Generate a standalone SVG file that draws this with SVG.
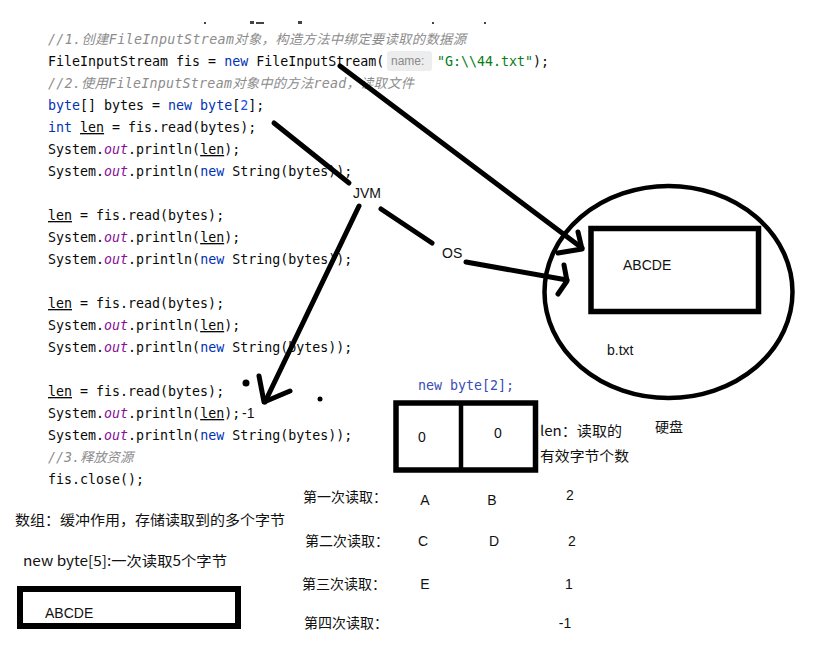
<svg xmlns="http://www.w3.org/2000/svg" width="829" height="657" viewBox="0 0 829 657">
<style>
.code{font-family:"DejaVu Sans Mono","Noto Sans CJK SC",monospace;font-size:13.3px;fill:#080808;white-space:pre}
.kw{fill:#0033B3}
.num{fill:#1750EB}
.fld{fill:#871094;font-style:italic}
.str{fill:#067D17}
.cmt{fill:#8C8C8C;font-style:italic}
.ul{text-decoration:underline}
.lbl{font-family:"Liberation Sans","Noto Sans CJK SC",sans-serif;font-size:14px;fill:#111}
.cn{font-family:"Noto Sans CJK SC","Liberation Sans",sans-serif;font-size:14px;fill:#111}
.ink{fill:none;stroke:#000;stroke-width:5;stroke-linecap:round;stroke-linejoin:round}
.box{fill:none;stroke:#000}
</style>
<rect width="829" height="657" fill="#fff"/>
<g id="fragments" fill="#444">
<rect x="204" y="22" width="2" height="2"/>
<rect x="250" y="21" width="4" height="3"/>
<rect x="256" y="22" width="8" height="2"/>
<rect x="298" y="21" width="4" height="3"/>
<rect x="432" y="22" width="2" height="2"/>
<rect x="484" y="22" width="2" height="2"/>
</g>
<g id="code">
<text class="code" x="48" y="44" textLength="418" lengthAdjust="spacing"><tspan class="cmt">//1.创建FileInputStream对象，构造方法中绑定要读取的数据源</tspan></text>
<text class="code" x="48" y="66">FileInputStream fis = <tspan class="kw">new</tspan> FileInputStream(</text>
<rect x="387" y="51" width="45" height="20" rx="3" fill="#EDEDED"/>
<text x="391" y="65" font-family="'Liberation Sans',sans-serif" font-size="12" fill="#8a8a8a">name:</text>
<text class="code" x="437" y="66"><tspan class="str">"G:\\44.txt"</tspan>);</text>
<text class="code" x="48" y="88" textLength="366" lengthAdjust="spacing"><tspan class="cmt">//2.使用FileInputStream对象中的方法read，读取文件</tspan></text>
<text class="code" x="48" y="110"><tspan class="kw">byte</tspan>[] bytes = <tspan class="kw">new byte</tspan>[<tspan class="num">2</tspan>];</text>
<text class="code" x="48" y="132"><tspan class="kw">int</tspan> <tspan class="ul">len</tspan> = fis.read(bytes);</text>
<text class="code" x="48" y="154">System.<tspan class="fld">out</tspan>.println(<tspan class="ul">len</tspan>);</text>
<text class="code" x="48" y="176">System.<tspan class="fld">out</tspan>.println(<tspan class="kw">new</tspan> String(bytes));</text>
<text class="code" x="48" y="220"><tspan class="ul">len</tspan> = fis.read(bytes);</text>
<text class="code" x="48" y="242">System.<tspan class="fld">out</tspan>.println(<tspan class="ul">len</tspan>);</text>
<text class="code" x="48" y="264">System.<tspan class="fld">out</tspan>.println(<tspan class="kw">new</tspan> String(bytes));</text>
<text class="code" x="48" y="308"><tspan class="ul">len</tspan> = fis.read(bytes);</text>
<text class="code" x="48" y="330">System.<tspan class="fld">out</tspan>.println(<tspan class="ul">len</tspan>);</text>
<text class="code" x="48" y="352">System.<tspan class="fld">out</tspan>.println(<tspan class="kw">new</tspan> String(bytes));</text>
<text class="code" x="48" y="396"><tspan class="ul">len</tspan> = fis.read(bytes);</text>
<text class="code" x="48" y="418">System.<tspan class="fld">out</tspan>.println(<tspan class="ul">len</tspan>);</text>
<text class="lbl" x="242" y="418">-1</text>
<text class="code" x="48" y="440">System.<tspan class="fld">out</tspan>.println(<tspan class="kw">new</tspan> String(bytes));</text>
<text class="code" x="48" y="462"><tspan class="cmt">//3.释放资源</tspan></text>
<text class="code" x="48" y="484">fis.close();</text>
</g>
<g id="connectors">
<path class="ink" d="M274,123 L349,183"/>
<path class="ink" d="M359,206 L265,402"/>
<path class="ink" d="M259,376 L264,402 L290,391"/>
<path class="ink" d="M381,209 L432,243"/>
<path class="ink" d="M466,262 L567,280"/>
<path class="ink" d="M564,265 L567,281 L558,294"/>
<path class="ink" d="M340,66 L582,248"/>
<path class="ink" d="M578,232 L582,249 L558,253"/>
<circle cx="246" cy="383" r="3.5" fill="#000"/>
<circle cx="320" cy="399" r="2.5" fill="#000"/>
</g>
<g id="jvm"><text class="lbl" x="353" y="198">JVM</text></g>
<g id="os"><text class="lbl" x="442" y="258">OS</text></g>
<g id="disk">
<ellipse class="box" cx="668.5" cy="292" rx="124" ry="106" stroke-width="4.5"/>
<rect class="box" x="591" y="228.5" width="167.5" height="83" stroke-width="5.5"/>
<text class="lbl" x="623" y="270">ABCDE</text>
<text class="lbl" x="607" y="355">b.txt</text>
<text class="cn" x="655" y="432">硬盘</text>
</g>
<g id="array">
<text class="code" x="418" y="390" style="fill:#3a4db8">new byte[2];</text>
<rect class="box" x="396" y="403" width="139.5" height="67" stroke-width="5.5"/>
<line x1="461" y1="403" x2="461" y2="472" stroke="#000" stroke-width="4.5"/>
<text class="lbl" x="422" y="442" font-size="15" text-anchor="middle">0</text>
<text class="lbl" x="498" y="438" font-size="15" text-anchor="middle">0</text>
<text class="cn" x="540" y="436" font-size="15" textLength="82" lengthAdjust="spacingAndGlyphs">len：读取的</text>
<text class="cn" x="540" y="461" font-size="15" textLength="89" lengthAdjust="spacingAndGlyphs">有效字节个数</text>
</g>
<g id="table">
<text class="cn" x="303" y="502">第一次读取：</text>
<text class="lbl" x="425" y="505" text-anchor="middle">A</text>
<text class="lbl" x="492" y="505" text-anchor="middle">B</text>
<text class="lbl" x="570" y="500" text-anchor="middle">2</text>
<text class="cn" x="305" y="546">第二次读取：</text>
<text class="lbl" x="423" y="546" text-anchor="middle">C</text>
<text class="lbl" x="494" y="546" text-anchor="middle">D</text>
<text class="lbl" x="572" y="546" text-anchor="middle">2</text>
<text class="cn" x="302" y="589">第三次读取：</text>
<text class="lbl" x="425" y="589" text-anchor="middle">E</text>
<text class="lbl" x="569" y="589" text-anchor="middle">1</text>
<text class="cn" x="304" y="628">第四次读取：</text>
<text class="lbl" x="565" y="628" text-anchor="middle">-1</text>
</g>
<g id="buffer-note">
<text class="cn" x="15" y="525" font-size="15" textLength="270" lengthAdjust="spacingAndGlyphs">数组：缓冲作用，存储读取到的多个字节</text>
<text class="cn" x="23" y="566" font-size="15" textLength="204" lengthAdjust="spacingAndGlyphs">new byte[5]:一次读取5个字节</text>
</g>
<g id="buffer5">
<rect class="box" x="20" y="589" width="218" height="37" stroke-width="6"/>
<text class="lbl" x="45" y="618">ABCDE</text>
</g>
</svg>
